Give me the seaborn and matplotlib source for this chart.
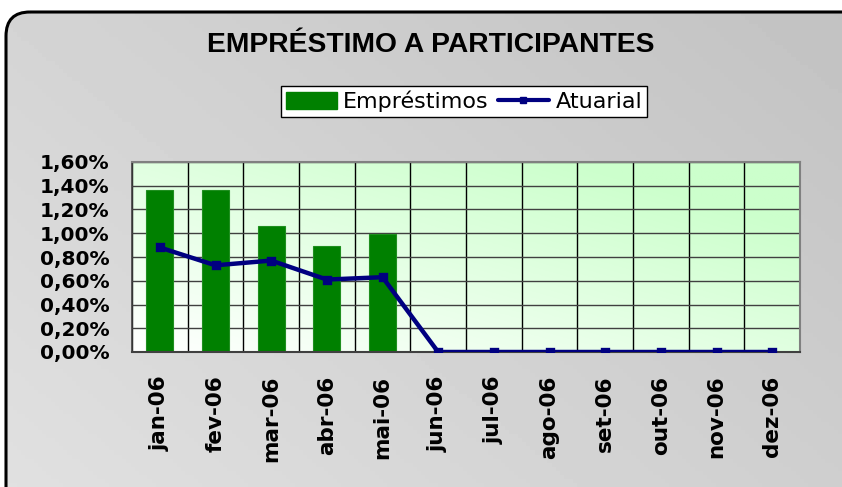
import numpy as np
import matplotlib
matplotlib.use("Agg")
import matplotlib.pyplot as plt
import seaborn as sns
from matplotlib.patches import FancyBboxPatch, Patch
from matplotlib.lines import Line2D
from matplotlib.ticker import FuncFormatter, FixedLocator

# data (percent)
months = ["jan-06", "fev-06", "mar-06", "abr-06", "mai-06", "jun-06",
          "jul-06", "ago-06", "set-06", "out-06", "nov-06", "dez-06"]
emprestimos = [1.36, 1.36, 1.06, 0.89, 0.99, 0, 0, 0, 0, 0, 0, 0]
atuarial = [0.88, 0.73, 0.77, 0.61, 0.63, 0, 0, 0, 0, 0, 0, 0]
yticks = [0.0, 0.2, 0.4, 0.6, 0.8, 1.0, 1.2, 1.4, 1.6]

sns.set_style("white")
plt.rcParams["font.family"] = ["DejaVu Sans"]
plt.rcParams["text.color"] = "black"
plt.rcParams["xtick.color"] = "black"
plt.rcParams["ytick.color"] = "black"

W, H = 842, 487
fig = plt.figure(figsize=(W / 100, H / 100), dpi=100)

# outer rounded gray panel
bg = fig.add_axes([0, 0, 1, 1], zorder=-5)
bg.set_xlim(0, W)
bg.set_ylim(H, 0)
bg.axis("off")
xx, yy = np.meshgrid(np.linspace(0, 1, 200), np.linspace(0, 1, 120))
shade = 0.83 - 0.07 * xx + 0.05 * yy
panel = FancyBboxPatch((6, 12), 870, 500, boxstyle="round,pad=0,rounding_size=24",
                       facecolor="none", edgecolor="black", linewidth=2.2, zorder=3)
bg.add_patch(panel)
im = bg.imshow(shade, extent=(0, W, H, 0), cmap="gray", vmin=0, vmax=1,
               aspect="auto", zorder=1)
im.set_clip_path(panel)

# plot area with white -> light green gradient
pos = [132 / W, (H - 352) / H, 668 / W, 190 / H]
ax_grad = fig.add_axes(pos, zorder=0)
ax_grad.axis("off")
t = np.clip(0.6 * xx + 0.6 * (1 - yy), 0, 1)
lo = np.array([1.0, 1.0, 1.0])
hi = np.array([0.80, 1.0, 0.80])
rgb = lo * (1 - t[..., None]) + hi * t[..., None]
ax_grad.imshow(rgb, extent=(0, 1, 0, 1), aspect="auto")

ax = fig.add_axes(pos, zorder=1)
ax.patch.set_alpha(0)

sns.barplot(x=months, y=emprestimos, color="#008000", width=0.49,
            edgecolor="#1f8f1f", linewidth=0.8, saturation=1, ax=ax, zorder=2)
sns.pointplot(x=months, y=atuarial, color="#000080", markers="s",
              markersize=5, linewidth=3.2, ax=ax, zorder=4)

ax.set_xlim(-0.5, 11.5)
ax.set_ylim(0, 1.6)
ax.set_xlabel("")
ax.set_ylabel("")
ax.set_yticks(yticks)
ax.yaxis.set_major_formatter(FuncFormatter(lambda v, p: f"{v:.2f}%".replace(".", ",")))
ax.set_xticks(range(len(months)))
ax.set_xticklabels(months, rotation=90, fontsize=15.5, fontweight="bold", va="top")
ax.xaxis.set_minor_locator(FixedLocator(np.arange(-0.5, 12, 1)))
ax.tick_params(axis="x", which="major", length=0, pad=17)
ax.tick_params(axis="x", which="minor", length=5, width=1, color="black", direction="out")
ax.tick_params(axis="y", length=5, width=1, color="black", direction="out",
               labelsize=14.5, pad=11)
for lab in ax.get_yticklabels():
    lab.set_fontweight("bold")

ax.grid(False)
ax.yaxis.grid(True, color="#404040", linewidth=1)
ax.xaxis.grid(True, which="minor", color="black", linewidth=1)
ax.set_axisbelow(True)
for s in ["top", "right"]:
    ax.spines[s].set_color("#808080")
    ax.spines[s].set_linewidth(1.5)
ax.spines["left"].set_color("#404040")
ax.spines["bottom"].set_color("#404040")
ax.spines["left"].set_linewidth(1.2)
ax.spines["bottom"].set_linewidth(1.5)

fig.text(431 / W, 1 - 45 / H, "EMPRÉSTIMO A PARTICIPANTES", ha="center", va="center",
         fontsize=20.3, fontweight="bold", family="Liberation Sans", color="black")

handles = [Patch(facecolor="#008000", edgecolor="#008000"),
           Line2D([], [], color="#000080", linewidth=3, marker="s", markersize=5)]
leg = fig.legend(handles, ["Empréstimos", "Atuarial"], loc="center",
                 bbox_to_anchor=(464 / W, 1 - 101.5 / H), ncol=2, fontsize=16,
                 frameon=True, fancybox=False, edgecolor="black", framealpha=1,
                 handlelength=2.3, handleheight=0.85, handletextpad=0.3,
                 columnspacing=0.4, borderpad=0.22, borderaxespad=0)
leg.get_frame().set_linewidth(1)

fig.savefig("out.png", dpi=100)
